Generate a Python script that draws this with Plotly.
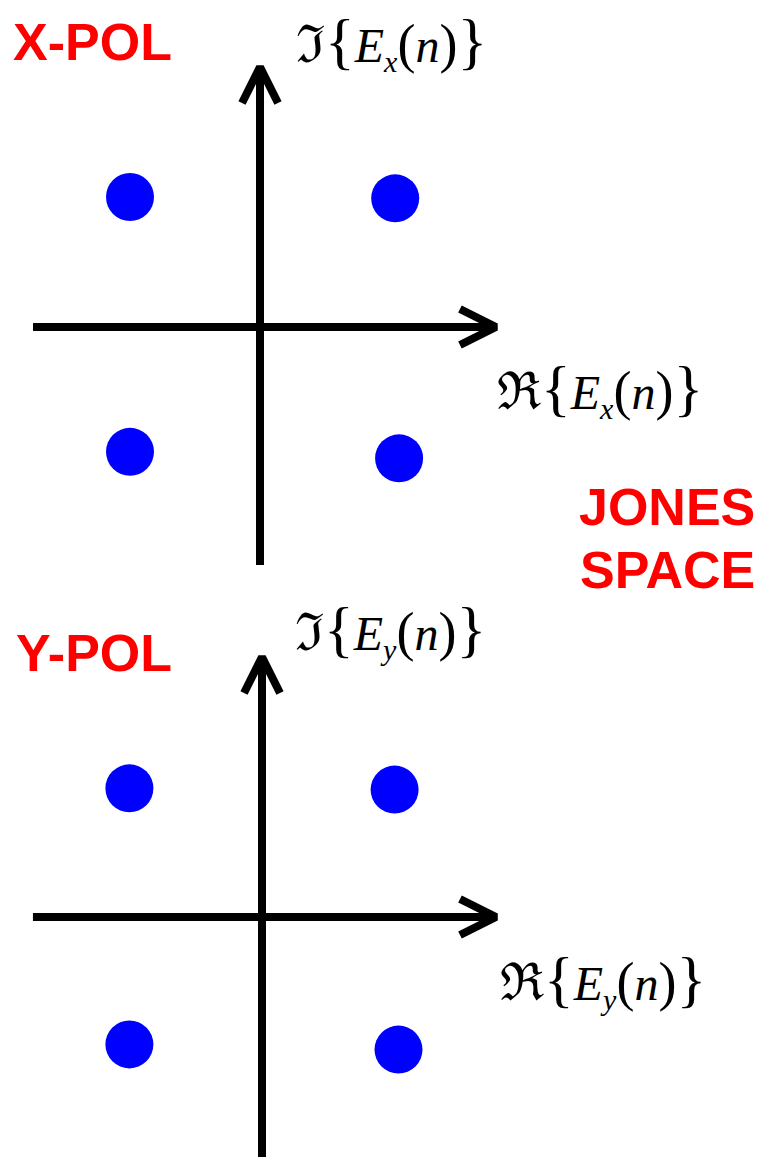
import plotly.graph_objects as go

# Page size in pixels
W, H = 762, 1157

# Constellation points: real / imaginary parts of the field samples per polarisation
x_pol_re = [-1.00, 1.04, -1.00, 1.07]
x_pol_im = [1.00, 0.99, -0.96, -1.01]
y_pol_re = [-1.02, 1.02, -1.02, 1.05]
y_pol_im = [0.99, 0.98, -0.98, -1.02]

# Text
panel_titles = ["X-POL", "Y-POL"]
space_label = ["JONES", "SPACE"]
subscripts = ["x", "y"]

# Layout constants (pixels per unit and where each panel's origin sits on the page)
S = 130.0
origins = [(260, 327), (262, 917)]
panel_px = [(0, H / 2), (H / 2, H)]          # vertical pixel span of each panel
h_axis_ext = [(-1.746, 1.815), (-1.762, 1.80)]
v_axis_ext = [(-1.831, 2.0), (-1.950, 2.0)]
HEAD_LEN = 36 / S     # chevron depth along the axis
HEAD_HALF = 18 / S    # chevron half-width across the axis
LW = 8

RED = "rgb(255,0,0)"
BLUE = "rgb(0,0,255)"
SERIF = "Liberation Serif, Times New Roman, serif"
SANS = "Liberation Sans, Arial, sans-serif"


def caption(symbol, sub):
    big = "<span style='font-size:62px'>%s</span>"
    par = "<span style='font-size:54px'>%s</span>"
    return ("<span style='font-size:52px'>%s</span>" % symbol + big % "{" +
            "<i>E</i><sub><span style='font-size:30px'><i>%s</i></span></sub>" % sub +
            par % "(" + "<i>n</i>" + par % ")" + big % "}")


fig = go.Figure()

series = [(x_pol_re, x_pol_im), (y_pol_re, y_pol_im)]
layout_axes = {}


def line_trace(xs, ys, xr, yr):
    return go.Scatter(x=xs, y=ys, mode="lines", line=dict(color="black", width=LW),
                      xaxis=xr, yaxis=yr, hoverinfo="skip", showlegend=False)


for i, ((re, im), (ox, oy), (ptop, pbot)) in enumerate(zip(series, origins, panel_px)):
    sfx = "" if i == 0 else str(i + 1)
    xr, yr = "x" + sfx, "y" + sfx
    dom = [0.5, 1.0] if i == 0 else [0.0, 0.5]
    layout_axes["xaxis" + sfx] = dict(
        domain=[0, 1], range=[-ox / S, (W - ox) / S], visible=False, fixedrange=True,
        anchor=yr,
    )
    layout_axes["yaxis" + sfx] = dict(
        domain=dom, range=[-(pbot - oy) / S, (oy - ptop) / S], visible=False,
        fixedrange=True, anchor=xr,
    )

    # real axis with chevron head
    x0, x1 = h_axis_ext[i]
    fig.add_trace(line_trace([x0, x1], [0, 0], xr, yr))
    fig.add_trace(line_trace([x1 - HEAD_LEN, x1, x1 - HEAD_LEN],
                             [HEAD_HALF, 0, -HEAD_HALF], xr, yr))
    # imaginary axis with chevron head
    y0, y1 = v_axis_ext[i]
    fig.add_trace(line_trace([0, 0], [y0, y1], xr, yr))
    fig.add_trace(line_trace([-HEAD_HALF, 0, HEAD_HALF],
                             [y1 - HEAD_LEN, y1, y1 - HEAD_LEN], xr, yr))

    # constellation points
    fig.add_trace(go.Scatter(
        x=re, y=im, mode="markers",
        marker=dict(size=48, color=BLUE, line=dict(width=0)),
        xaxis=xr, yaxis=yr, hoverinfo="skip", showlegend=False,
    ))


def paper(px, py):
    return px / W, 1 - py / H


def text_ann(txt, px, py, size, family, color, xanchor="center", weight="normal"):
    x, y = paper(px, py)
    return dict(x=x, y=y, xref="paper", yref="paper", text=txt, showarrow=False,
                xanchor=xanchor, yanchor="middle",
                font=dict(size=size, family=family, color=color, weight=weight))


annotations = [
    # axis captions
    text_ann(caption("\u2111", subscripts[0]), 391, 42, 48, SERIF, "black"),
    text_ann(caption("\u211C", subscripts[0]), 600, 390, 48, SERIF, "black"),
    text_ann(caption("\u2111", subscripts[1]), 390, 630, 48, SERIF, "black"),
    text_ann(caption("\u211C", subscripts[1]), 603, 980, 48, SERIF, "black"),
    # panel titles
    text_ann(panel_titles[0], 11, 42, 52, SANS, RED, "left", "bold"),
    text_ann(panel_titles[1], 14, 653, 52, SANS, RED, "left", "bold"),
    text_ann(space_label[0], 757, 507, 52, SANS, RED, "right", "bold"),
    text_ann(space_label[1], 757, 570, 52, SANS, RED, "right", "bold"),
]

fig.update_layout(
    width=W, height=H, margin=dict(l=0, r=0, t=0, b=0),
    paper_bgcolor="white", plot_bgcolor="white",
    annotations=annotations, showlegend=False,
    **layout_axes,
)

fig.write_html("out.html", config={"displayModeBar": False})
